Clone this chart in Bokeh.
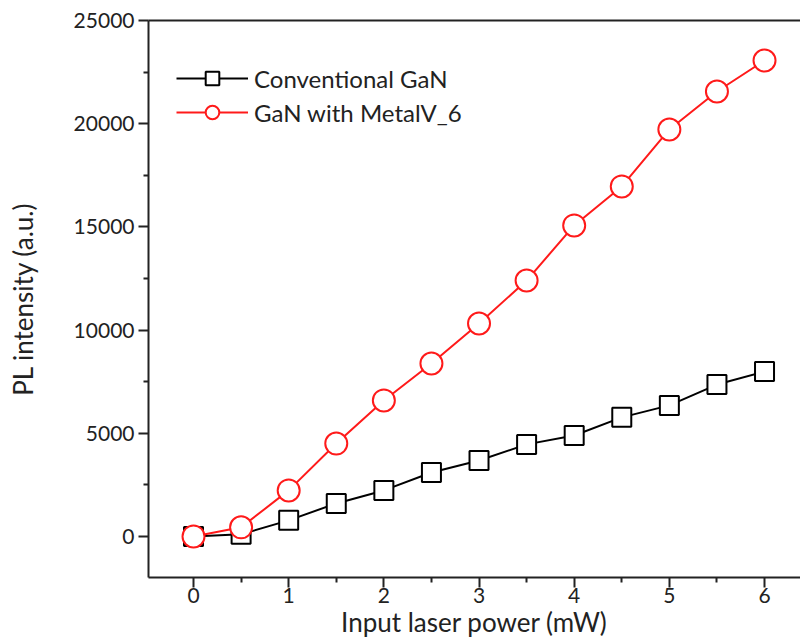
from bokeh.plotting import figure
from bokeh.models import LinearAxis, Range1d, FixedTicker, Legend
from bokeh.embed import file_html
from bokeh.resources import INLINE

power = [0, 0.5, 1, 1.5, 2, 2.5, 3, 3.5, 4, 4.5, 5, 5.5, 6]
conventional = [0, 100, 780, 1600, 2230, 3100, 3680, 4460, 4890, 5770, 6350, 7360, 7990]
metal = [0, 440, 2230, 4500, 6590, 8380, 10320, 12400, 15070, 16960, 19720, 21560, 23060]
x_ticks = [0, 1, 2, 3, 4, 5, 6]
y_ticks = [0, 5000, 10000, 15000, 20000, 25000]

FONT = "Lato"

p = figure(width=800, height=643, output_backend="svg", toolbar_location=None,
           x_range=Range1d(-0.473, 6.378), y_range=Range1d(-1990, 25000),
           min_border_left=148, min_border_right=0, min_border_top=20, min_border_bottom=66)
p.xaxis.visible = False
p.yaxis.visible = False
p.xgrid.visible = False
p.ygrid.visible = False
p.outline_line_color = None
p.background_fill_color = "white"
p.border_fill_color = "white"

xa = LinearAxis(ticker=FixedTicker(ticks=x_ticks, minor_ticks=[v + 0.5 for v in range(-1, 7)]),
                axis_label="Input laser power (mW)")
ya = LinearAxis(ticker=FixedTicker(ticks=y_ticks, minor_ticks=[v + 2500 for v in range(-5000, 25000, 5000)]),
                axis_label="PL intensity (a.u.)")
for ax in (xa, ya):
    ax.axis_line_width = 2
    ax.axis_line_color = "#222222"
    ax.major_tick_line_width = 2
    ax.minor_tick_line_width = 2
    ax.major_tick_line_color = "#222222"
    ax.minor_tick_line_color = "#222222"
    ax.major_tick_out = 10
    ax.major_tick_in = 0
    ax.minor_tick_out = 5
    ax.minor_tick_in = 0
    ax.major_label_text_font = FONT
    ax.major_label_text_font_size = "21px"
    ax.major_label_text_color = "#222222"
    ax.axis_label_text_font = FONT
    ax.axis_label_text_font_size = "26px"
    ax.axis_label_text_font_style = "normal"
    ax.axis_label_text_color = "#222222"
xa.major_label_standoff = 0
xa.axis_label_standoff = 0
ya.major_label_standoff = 4
ya.axis_label_standoff = 32
p.add_layout(xa, "below")
p.add_layout(ya, "left")

top = LinearAxis(ticker=FixedTicker(ticks=[]), major_label_text_font_size="0px")
top.axis_line_width = 2
top.axis_line_color = "#222222"
top.major_tick_line_color = None
top.minor_tick_line_color = None
p.add_layout(top, "above")

r1 = p.line(power, conventional, line_color="black", line_width=2)
s1 = p.scatter(power, conventional, marker="square", size=19, fill_color="white",
               line_color="black", line_width=2)
r2 = p.line(power, metal, line_color="#ff1a1a", line_width=2)
s2 = p.scatter(power, metal, marker="circle", size=22, fill_color="white",
               line_color="#ff1a1a", line_width=2)

legend = Legend(items=[("Conventional GaN", [r1, s1]), ("GaN with MetalV_6", [r2, s2])],
                location=(28, 448))
legend.margin = 0
legend.padding = 0
legend.border_line_color = None
legend.background_fill_alpha = 0
legend.label_text_font = FONT
legend.label_text_font_size = "24px"
legend.label_text_color = "#222222"
legend.glyph_width = 72
legend.glyph_height = 34
legend.label_height = 24
legend.spacing = 0
legend.label_standoff = 6
p.add_layout(legend, "center")

open("out.html", "w").write(file_html(p, INLINE))
